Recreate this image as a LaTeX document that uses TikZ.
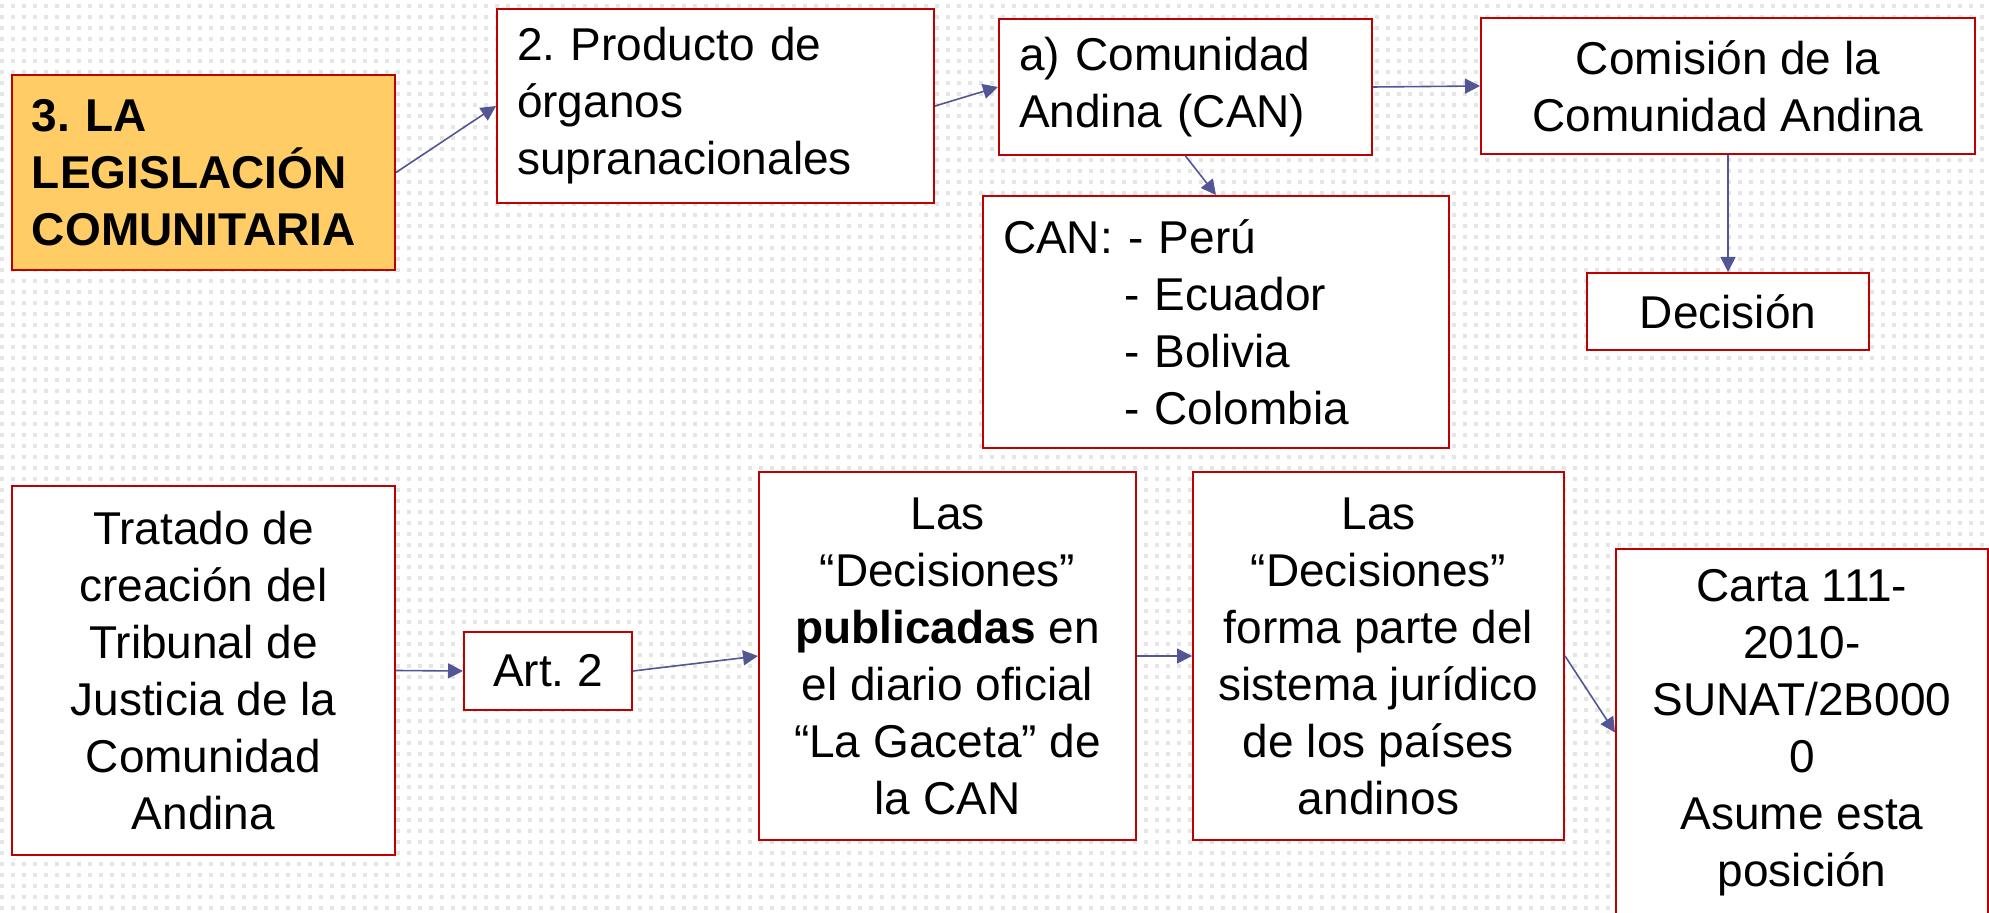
\documentclass[tikz,border=0pt]{standalone}
\usepackage{fontspec}
\setmainfont{Liberation Sans}
\usetikzlibrary{arrows.meta}
\definecolor{boxred}{RGB}{192,0,0}
\definecolor{linkblue}{RGB}{82,86,148}
\definecolor{titlegold}{RGB}{255,204,102}
\newcommand{\diagfont}{\fontsize{23}{28.5}\selectfont}
\frenchspacing

\begin{document}
\begin{tikzpicture}[x=0.5pt, y=-0.5pt,
  box/.style={draw=boxred, line width=1pt, fill=white, anchor=north west,
    inner xsep=4pt, inner ysep=0pt, align=center, font=\diagfont},
  leftbox/.style={box, align=left, inner xsep=10pt},
  link/.style={-{Triangle[length=7.5pt,width=7.5pt]}, linkblue, line width=0.8pt},
  dotgrid/.style={black!10, line width=2pt, dash pattern=on 2pt off 3.5pt}]
  \useasboundingbox (0,0) rectangle (1989,913);
  \clip (0,0) rectangle (1989,913);
  % --- Background: dotted grid ---
  \foreach \row in {0,...,82} {
    \pgfmathsetmacro{\yy}{6+11*\row}
    \draw[dotgrid] (0,\yy) -- (1989,\yy);
  }
  % --- Top row ---
  \node[leftbox, fill=titlegold, text width=171.5pt, minimum height=97.5pt,
        font=\diagfont\bfseries] (legis) at (11,74) {3. LA\\LEGISLACIÓN\\COMUNITARIA};
  \node[leftbox, text width=198.5pt, minimum height=97pt] (producto) at (496,8)
        {2. Producto de\\órganos\\supranacionales};
  \node[leftbox, text width=166.5pt, minimum height=68pt] (can) at (998,18)
        {a) Comunidad\\Andina (CAN)};
  \node[box, minimum width=247pt, minimum height=68pt] (comision) at (1480,17)
        {Comisión de la\\Comunidad Andina};
  \node[leftbox, text width=213pt, minimum height=126pt] (paises) at (982,195)
        {CAN: - Perú\\\hspace*{60.5pt}- Ecuador\\\hspace*{60.5pt}- Bolivia\\\hspace*{60.5pt}- Colombia};
  \node[box, minimum width=141pt, minimum height=38.5pt] (decision) at (1586,272) {Decisión};
  % --- Bottom row ---
  \node[box, minimum width=191.5pt, minimum height=184.5pt] (tratado) at (11,485)
        {Tratado de\\creación del\\Tribunal de\\Justicia de la\\Comunidad\\Andina};
  \node[box, minimum width=84pt, minimum height=39pt] (art) at (463,631) {Art. 2};
  \node[box, minimum width=188.5pt, minimum height=184pt] (publicadas) at (758,471)
        {Las\\“Decisiones”\\\textbf{publicadas} en\\el diario oficial\\“La Gaceta” de\\la CAN};
  \node[box, minimum width=185.5pt, minimum height=184pt] (sistema) at (1192,471)
        {Las\\“Decisiones”\\forma parte del\\sistema jurídico\\de los países\\andinos};
  \node[box, minimum width=186pt, minimum height=183.5pt] (carta) at (1615,548)
        {Carta 111-\\2010-\\SUNAT/2B000\\0\\Asume esta\\posición};
  % --- Connectors ---
  \draw[link] (legis.east) -- (producto.west);
  \draw[link] (producto.east) -- (can.west);
  \draw[link] (can.east) -- (comision.west);
  \draw[link] (can.south) -- (paises.north);
  \draw[link] (comision.south) -- (decision.north);
  \draw[link] (tratado.east) -- (art.west);
  \draw[link] (art.east) -- (publicadas.west);
  \draw[link] (publicadas.east) -- (sistema.west);
  \draw[link] (sistema.east) -- (carta.west);
\end{tikzpicture}
\end{document}
